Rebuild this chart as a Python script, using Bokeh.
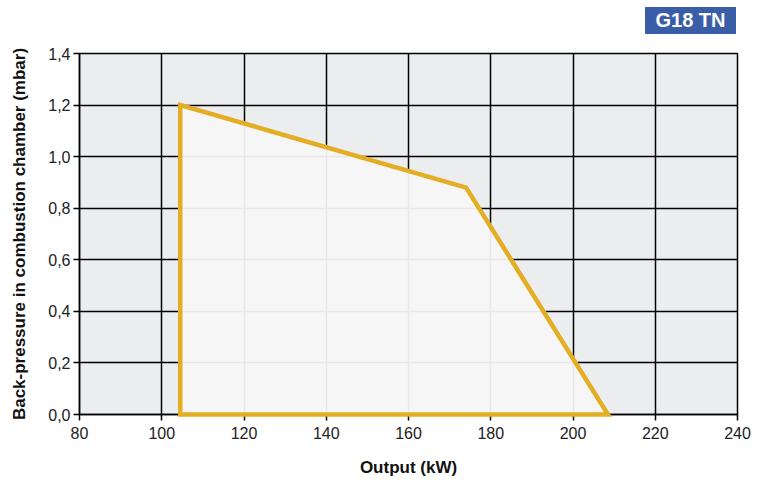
from bokeh.plotting import figure
from bokeh.models import Range1d, FixedTicker, Div
from bokeh.layouts import column
from bokeh.embed import file_html
from bokeh.resources import INLINE

# ---- data ----
x_ticks = [80, 100, 120, 140, 160, 180, 200, 220, 240]
y_ticks = [0.0, 0.2, 0.4, 0.6, 0.8, 1.0, 1.2, 1.4]
y_tick_labels = ["0,0", "0,2", "0,4", "0,6", "0,8", "1,0", "1,2", "1,4"]
output_kw = [104.5, 104.5, 174.0, 208.5]
back_pressure = [0.0, 1.2, 0.88, 0.0]
badge_text = "G18 TN"
x_label = "Output (kW)"
y_label = "Back-pressure in combustion chamber (mbar)"

badge_style = ("display:inline-block;margin-left:645px;margin-top:7px;width:91px;height:27px;"
               "background:#3A5DA8;color:white;font-family:'Liberation Sans',Arial,sans-serif;"
               "font-weight:bold;font-size:20px;line-height:27px;text-align:center;")
header = Div(text=f'<div style="{badge_style}">{badge_text}</div>',
             width=767, height=45, margin=0)

p = figure(width=767, height=440, output_backend="svg", toolbar_location=None,
           x_range=Range1d(80, 240), y_range=Range1d(0, 1.4),
           min_border_left=79, min_border_right=30, min_border_top=8, min_border_bottom=71)

p.background_fill_color = "#ECEDEF"
p.border_fill_color = "white"
p.outline_line_color = "black"
p.outline_line_width = 1.5

for ax in (p.xaxis[0], p.yaxis[0]):
    ax.axis_line_color = "black"
    ax.axis_line_width = 1.5
    ax.major_tick_line_color = "black"
    ax.major_tick_line_width = 1.5
    ax.major_tick_in = 0
    ax.major_tick_out = 6
    ax.minor_tick_line_color = None
    ax.major_label_text_font = "Liberation Sans"
    ax.major_label_text_font_size = "16px"
    ax.major_label_text_color = "#222222"
    ax.axis_label_text_font = "Liberation Sans"
    ax.axis_label_text_font_style = "bold"
    ax.axis_label_text_font_size = "17px"
    ax.axis_label_text_color = "#111111"

p.xaxis.ticker = FixedTicker(ticks=x_ticks)
p.yaxis.ticker = FixedTicker(ticks=y_ticks)
p.yaxis.major_label_overrides = {t: s for t, s in zip(y_ticks, y_tick_labels)}
p.xaxis.axis_label = x_label
p.yaxis.axis_label = y_label
p.xaxis.major_label_standoff = 6
p.yaxis.major_label_standoff = 3
p.xaxis.axis_label_standoff = 16
p.yaxis.axis_label_standoff = 16

p.xgrid[0].ticker = FixedTicker(ticks=x_ticks)
p.ygrid[0].ticker = FixedTicker(ticks=y_ticks)
for g in (p.xgrid[0], p.ygrid[0]):
    g.grid_line_color = "black"
    g.grid_line_width = 1.5
    g.grid_line_alpha = 1.0

p.patch(output_kw, back_pressure, fill_color="#F7F7F7", fill_alpha=0.94,
        line_color="#E3AE24", line_width=4.5, line_join="miter", level="overlay")

layout = column(header, p, spacing=0)
open("out.html", "w").write(file_html(layout, INLINE))
